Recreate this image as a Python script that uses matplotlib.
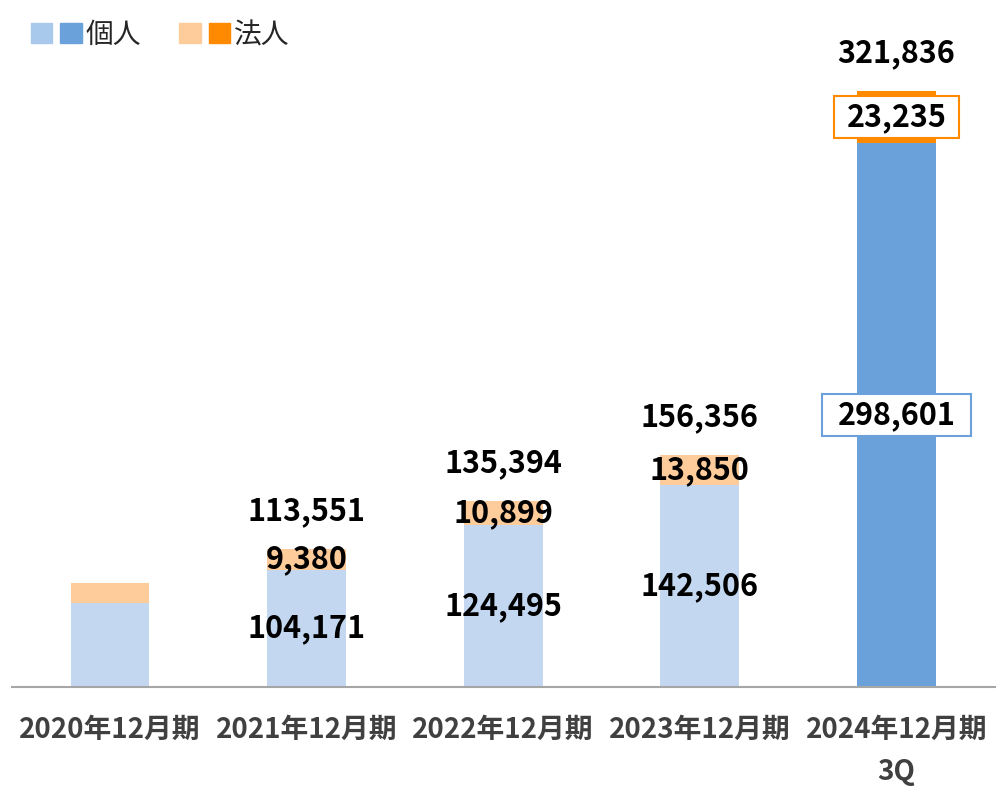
import matplotlib
matplotlib.use("Agg")
import matplotlib.pyplot as plt
from matplotlib.patches import Patch
from matplotlib.path import Path
from matplotlib.legend_handler import HandlerTuple

plt.rcParams['font.family'] = ['Noto Sans CJK JP', 'DejaVu Sans']

# categories
periods = ['2020年12月期', '2021年12月期', '2022年12月期', '2023年12月期', '2024年12月期\n3Q']
# label values shown on the chart (2020 has none)
kojin_lbl = [None, 104171, 124495, 142506, 298601]
hojin_lbl = [None, 9380, 10899, 13850, 23235]
total_lbl = [None, 113551, 135394, 156356, 321836]
# bar heights as drawn in the picture (the original is not drawn to scale)
kojin_bar = [45400, 63200, 87500, 109100, 293800]
hojin_bar = [10800, 11300, 13000, 16200, 28100]

c_kojin_l, c_kojin_d = '#C3D7F0', '#6AA1DA'
c_hojin_l, c_hojin_d = '#FECC9A', '#FF8A00'
leg_kojin_l = '#A9C9EC'


def box(padx, pady):
    # rectangle with separate x / y padding (in fontsize units)
    def f(x0, y0, w, h, mutation_size):
        px, py = padx * mutation_size, pady * mutation_size
        return Path([(x0 - px, y0 - py), (x0 + w + px, y0 - py), (x0 + w + px, y0 + h + py),
                     (x0 - px, y0 + h + py), (x0 - px, y0 - py)], closed=True)
    return f


fig = plt.figure(figsize=(10.07, 7.91), dpi=100)
ax = fig.add_axes([11.7 / 1007, 104 / 791, 983 / 1007, 667 / 791])

x = list(range(len(periods)))
blue_cols = [c_kojin_l] * 4 + [c_kojin_d]
orng_cols = [c_hojin_l] * 4 + [c_hojin_d]
ax.bar(x, kojin_bar, width=0.40, color=blue_cols)
ax.bar(x, hojin_bar, width=0.40, bottom=kojin_bar, color=orng_cols)

ax.set_xlim(-0.5, 4.5)
ax.set_ylim(0, 667 * 540)
for s in ['top', 'right', 'left']:
    ax.spines[s].set_visible(False)
ax.spines['bottom'].set_color('#A6A6A6')
ax.spines['bottom'].set_linewidth(1.5)
ax.set_yticks([])
ax.set_xticks(x)
ax.set_xticklabels(periods, fontsize=20, fontweight='bold', color='#404040', linespacing=1.65)
ax.tick_params(axis='x', length=0, pad=21)

lab = dict(ha='center', va='center', fontsize=22, fontweight='bold', color='black')
for i in x:
    if total_lbl[i] is None:
        continue
    kb, hb = kojin_bar[i], hojin_bar[i]
    boxk = boxh = None
    if i == 4:
        boxk = dict(boxstyle=box(0.52, 0.17), fc='white', ec=c_kojin_d, lw=1.5)
        boxh = dict(boxstyle=box(0.42, 0.17), fc='white', ec=c_hojin_d, lw=1.5)
    ax.text(i, kb / 2, f'{kojin_lbl[i]:,}', bbox=boxk, **lab)
    ax.text(i, kb + hb / 2, f'{hojin_lbl[i]:,}', bbox=boxh, **lab)
    ax.annotate(f'{total_lbl[i]:,}', (i, kb + hb), xytext=(0, 27), textcoords='offset points', **lab)

h1 = (Patch(color=leg_kojin_l), Patch(color=c_kojin_d))
h2 = (Patch(color=c_hojin_l), Patch(color=c_hojin_d))
fig.legend([h1, h2], ['個人', '法人'], handler_map={tuple: HandlerTuple(ndivide=None, pad=0.29)},
           loc='upper left', bbox_to_anchor=(31 / 1007, 1 - 20 / 791), ncol=2, frameon=False,
           fontsize=20, handlelength=1.83, handleheight=0.72, handletextpad=0.14,
           columnspacing=1.37, borderpad=0, borderaxespad=0, labelcolor='#262626')

fig.savefig('out.png', dpi=100)
